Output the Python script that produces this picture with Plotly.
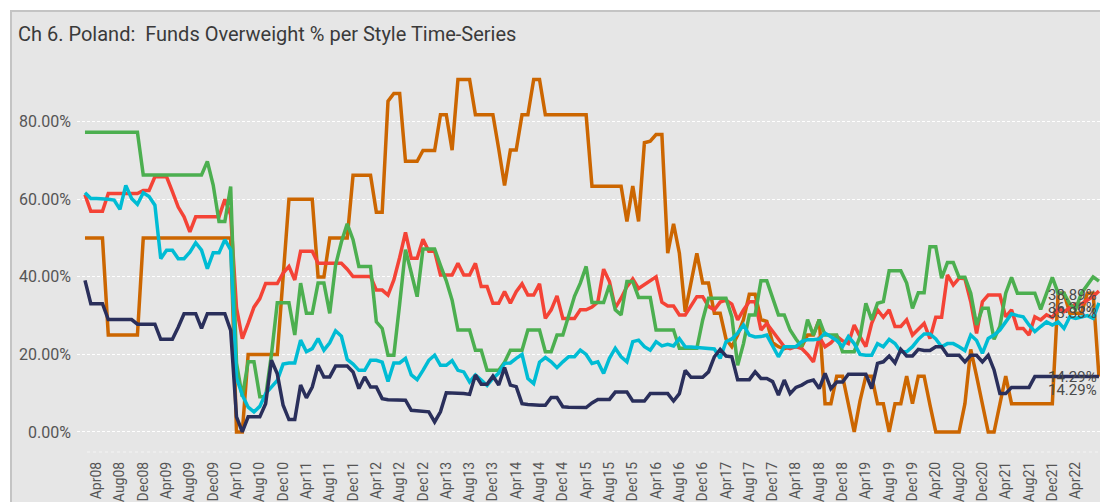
import plotly.graph_objects as go

# Monthly categories, Feb08 .. Aug22
MONTHS = ["Jan", "Feb", "Mar", "Apr", "May", "Jun", "Jul", "Aug", "Sep", "Oct", "Nov", "Dec"]
categories = [f"{MONTHS[(1 + k) % 12]}{8 + (1 + k) // 12:02d}" for k in range(175)]
tick_labels = categories[2:171:4]          # Apr08, Aug08, ... Apr22

orange = [
    0.50, 0.50, 0.50, 0.50, 0.25, 0.25, 0.25, 0.25, 0.25, 0.25,
    0.50, 0.50, 0.50, 0.50, 0.50, 0.50, 0.50, 0.50, 0.50, 0.50,
    0.50, 0.50, 0.50, 0.50, 0.50, 0.50, 0.0, 0.0, 0.20, 0.20,
    0.20, 0.20, 0.20, 0.20, 0.40, 0.60, 0.60, 0.60, 0.60, 0.60,
    0.40, 0.40, 0.50, 0.50, 0.50, 0.50, 0.662, 0.662, 0.662, 0.662,
    0.567, 0.567, 0.853, 0.873, 0.873, 0.698, 0.698, 0.698, 0.726, 0.726,
    0.726, 0.818, 0.818, 0.727, 0.909, 0.909, 0.909, 0.818, 0.818, 0.818,
    0.818, 0.730, 0.636, 0.727, 0.727, 0.818, 0.818, 0.909, 0.909, 0.818,
    0.818, 0.818, 0.818, 0.818, 0.818, 0.818, 0.818, 0.634, 0.634, 0.634,
    0.634, 0.634, 0.634, 0.543, 0.634, 0.543, 0.746, 0.750, 0.767, 0.767,
    0.461, 0.537, 0.461, 0.310, 0.384, 0.461, 0.384, 0.384, 0.306, 0.306,
    0.240, 0.220, 0.250, 0.290, 0.355, 0.355, 0.290, 0.285, 0.230, 0.220,
    0.215, 0.220, 0.220, 0.220, 0.250, 0.250, 0.290, 0.073, 0.073, 0.144,
    0.144, 0.073, 0.0, 0.080, 0.144, 0.144, 0.073, 0.073, 0.0, 0.073,
    0.073, 0.144, 0.073, 0.144, 0.144, 0.070, 0.0, 0.0, 0.0, 0.0,
    0.0, 0.073, 0.213, 0.144, 0.070, 0.0, 0.0, 0.070, 0.144, 0.073,
    0.073, 0.073, 0.073, 0.073, 0.073, 0.073, 0.073, 0.358, 0.358, 0.306,
    0.306, 0.306, 0.358, 0.358, 0.1429,
]

red = [
    0.612, 0.569, 0.569, 0.569, 0.615, 0.615, 0.615, 0.615, 0.615, 0.615,
    0.623, 0.623, 0.658, 0.658, 0.658, 0.620, 0.580, 0.555, 0.516, 0.555,
    0.555, 0.555, 0.555, 0.555, 0.600, 0.560, 0.320, 0.241, 0.280, 0.322,
    0.344, 0.383, 0.383, 0.383, 0.410, 0.427, 0.392, 0.466, 0.466, 0.466,
    0.435, 0.435, 0.435, 0.435, 0.435, 0.420, 0.401, 0.401, 0.401, 0.401,
    0.366, 0.366, 0.353, 0.392, 0.450, 0.515, 0.448, 0.448, 0.497, 0.466,
    0.466, 0.405, 0.405, 0.405, 0.435, 0.405, 0.405, 0.435, 0.375, 0.375,
    0.332, 0.332, 0.362, 0.332, 0.362, 0.382, 0.353, 0.353, 0.382, 0.293,
    0.315, 0.351, 0.293, 0.293, 0.293, 0.315, 0.315, 0.322, 0.335, 0.420,
    0.388, 0.320, 0.345, 0.375, 0.395, 0.370, 0.380, 0.390, 0.400, 0.335,
    0.325, 0.325, 0.302, 0.302, 0.324, 0.349, 0.349, 0.324, 0.315, 0.335,
    0.340, 0.330, 0.289, 0.315, 0.336, 0.336, 0.263, 0.280, 0.260, 0.240,
    0.220, 0.215, 0.220, 0.215, 0.200, 0.181, 0.245, 0.220, 0.230, 0.247,
    0.235, 0.228, 0.276, 0.246, 0.220, 0.280, 0.315, 0.296, 0.315, 0.272,
    0.272, 0.289, 0.250, 0.265, 0.280, 0.241, 0.296, 0.296, 0.405, 0.379,
    0.397, 0.395, 0.336, 0.254, 0.336, 0.353, 0.353, 0.353, 0.297, 0.315,
    0.267, 0.267, 0.250, 0.297, 0.289, 0.302, 0.295, 0.319, 0.310, 0.320,
    0.330, 0.330, 0.340, 0.350, 0.3636,
]

green = [
    0.773, 0.773, 0.773, 0.773, 0.773, 0.773, 0.773, 0.773, 0.773, 0.773,
    0.663, 0.663, 0.663, 0.663, 0.663, 0.663, 0.663, 0.663, 0.663, 0.663,
    0.663, 0.698, 0.637, 0.543, 0.543, 0.633, 0.178, 0.091, 0.181, 0.181,
    0.091, 0.091, 0.200, 0.333, 0.333, 0.333, 0.250, 0.384, 0.306, 0.306,
    0.384, 0.384, 0.306, 0.430, 0.490, 0.537, 0.496, 0.427, 0.427, 0.427,
    0.284, 0.267, 0.198, 0.198, 0.330, 0.470, 0.410, 0.349, 0.472, 0.472,
    0.472, 0.430, 0.390, 0.340, 0.263, 0.263, 0.263, 0.211, 0.211, 0.159,
    0.159, 0.159, 0.180, 0.211, 0.211, 0.211, 0.263, 0.263, 0.263, 0.207,
    0.207, 0.250, 0.250, 0.300, 0.350, 0.384, 0.427, 0.334, 0.334, 0.334,
    0.379, 0.315, 0.302, 0.388, 0.388, 0.347, 0.347, 0.347, 0.263, 0.263,
    0.263, 0.263, 0.216, 0.216, 0.216, 0.216, 0.289, 0.345, 0.345, 0.345,
    0.345, 0.297, 0.172, 0.228, 0.302, 0.302, 0.390, 0.390, 0.345, 0.302,
    0.302, 0.263, 0.240, 0.220, 0.290, 0.250, 0.290, 0.250, 0.250, 0.250,
    0.207, 0.207, 0.207, 0.246, 0.332, 0.289, 0.332, 0.336, 0.416, 0.416,
    0.416, 0.384, 0.319, 0.359, 0.359, 0.478, 0.478, 0.397, 0.437, 0.437,
    0.399, 0.399, 0.358, 0.276, 0.319, 0.319, 0.239, 0.272, 0.358, 0.399,
    0.358, 0.358, 0.358, 0.358, 0.316, 0.358, 0.399, 0.358, 0.358, 0.330,
    0.316, 0.358, 0.380, 0.400, 0.3889,
]

cyan = [
    0.617, 0.602, 0.602, 0.602, 0.600, 0.598, 0.574, 0.636, 0.602, 0.587,
    0.617, 0.607, 0.585, 0.447, 0.469, 0.469, 0.447, 0.447, 0.464, 0.488,
    0.469, 0.421, 0.462, 0.462, 0.496, 0.470, 0.140, 0.095, 0.064, 0.052,
    0.066, 0.099, 0.116, 0.133, 0.175, 0.178, 0.178, 0.237, 0.207, 0.215,
    0.241, 0.211, 0.230, 0.261, 0.247, 0.187, 0.175, 0.159, 0.159, 0.185,
    0.185, 0.180, 0.130, 0.178, 0.178, 0.190, 0.147, 0.135, 0.159, 0.185,
    0.198, 0.172, 0.172, 0.184, 0.159, 0.155, 0.129, 0.147, 0.134, 0.120,
    0.138, 0.152, 0.177, 0.178, 0.190, 0.200, 0.138, 0.125, 0.180, 0.192,
    0.181, 0.166, 0.181, 0.194, 0.194, 0.211, 0.200, 0.177, 0.181, 0.151,
    0.190, 0.216, 0.194, 0.181, 0.233, 0.237, 0.220, 0.211, 0.233, 0.222,
    0.226, 0.222, 0.241, 0.220, 0.219, 0.218, 0.216, 0.216, 0.214, 0.190,
    0.233, 0.240, 0.255, 0.276, 0.250, 0.245, 0.246, 0.250, 0.220, 0.194,
    0.220, 0.220, 0.220, 0.233, 0.238, 0.238, 0.240, 0.255, 0.245, 0.236,
    0.220, 0.246, 0.228, 0.200, 0.198, 0.198, 0.228, 0.220, 0.239, 0.228,
    0.207, 0.207, 0.220, 0.239, 0.253, 0.253, 0.240, 0.220, 0.228, 0.228,
    0.220, 0.210, 0.250, 0.236, 0.203, 0.241, 0.250, 0.263, 0.284, 0.305,
    0.300, 0.297, 0.276, 0.259, 0.272, 0.284, 0.276, 0.284, 0.267, 0.297,
    0.293, 0.297, 0.300, 0.293, 0.3333,
]

navy = [
    0.391, 0.331, 0.331, 0.331, 0.290, 0.290, 0.290, 0.290, 0.290, 0.278,
    0.278, 0.278, 0.278, 0.239, 0.239, 0.239, 0.270, 0.305, 0.305, 0.305,
    0.267, 0.305, 0.305, 0.305, 0.305, 0.262, 0.039, 0.0, 0.039, 0.039,
    0.039, 0.073, 0.185, 0.150, 0.069, 0.032, 0.032, 0.121, 0.088, 0.116,
    0.172, 0.142, 0.142, 0.170, 0.170, 0.170, 0.155, 0.112, 0.142, 0.116,
    0.116, 0.086, 0.083, 0.082, 0.082, 0.082, 0.056, 0.055, 0.054, 0.052,
    0.026, 0.052, 0.101, 0.101, 0.100, 0.099, 0.097, 0.147, 0.123, 0.123,
    0.144, 0.121, 0.166, 0.121, 0.117, 0.073, 0.071, 0.069, 0.069, 0.069,
    0.089, 0.089, 0.065, 0.064, 0.064, 0.064, 0.063, 0.075, 0.084, 0.084,
    0.084, 0.103, 0.103, 0.103, 0.080, 0.080, 0.080, 0.099, 0.099, 0.099,
    0.099, 0.080, 0.099, 0.159, 0.141, 0.141, 0.141, 0.155, 0.194, 0.213,
    0.196, 0.194, 0.135, 0.135, 0.135, 0.155, 0.138, 0.138, 0.130, 0.095,
    0.134, 0.099, 0.115, 0.121, 0.130, 0.134, 0.112, 0.151, 0.112, 0.129,
    0.129, 0.149, 0.149, 0.149, 0.149, 0.112, 0.177, 0.181, 0.196, 0.178,
    0.213, 0.196, 0.196, 0.213, 0.210, 0.210, 0.220, 0.220, 0.198, 0.198,
    0.198, 0.181, 0.198, 0.198, 0.181, 0.198, 0.160, 0.099, 0.099, 0.115,
    0.115, 0.115, 0.115, 0.1429, 0.1429, 0.1429, 0.1429, 0.1429, 0.1429, 0.1429,
    0.1429, 0.1429, 0.1429, 0.1429, 0.1429,
]

# (values, colour, vertical nudge of the end label in px)
series = [
    (orange, "#CC6600", -13),
    (red, "#F44336", -17),
    (green, "#4CAF50", -14),
    (cyan, "#00BCD4", -10),
    (navy, "#2A2F5B", 0),
]

FONT = "Roboto"
TEXT = "#4a4a4a"

fig = go.Figure()
for values, colour, _ in series:
    fig.add_trace(go.Scatter(
        x=categories, y=values, mode="lines",
        line=dict(color=colour, width=3.5),
        hoverinfo="skip", showlegend=False,
    ))

# value labels at the end of each line
for values, colour, nudge in series:
    fig.add_annotation(
        x=categories[-1], y=values[-1], text=f"{values[-1] * 100:.2f}%",
        showarrow=False, xanchor="right", yanchor="middle", yshift=nudge,
        font=dict(family=FONT, size=15, color=TEXT),
    )

# plot box: 77..1100 px wide, 52..452 px tall
L, T, W, H = 77, 52, 1023, 400
def px(x):
    return (x - L) / W
def py(y):
    return (T + H - y) / H

# light grey card with a grey frame
fig.add_shape(type="rect", xref="paper", yref="paper",
              x0=px(11), x1=px(1120), y0=py(530), y1=py(11),
              fillcolor="#E6E6E6", line=dict(color="#C4C4C4", width=2), layer="below")
# dotted baseline under the plot
fig.add_shape(type="line", xref="paper", yref="paper",
              x0=px(87), x1=1.0, y0=0, y1=0,
              line=dict(color="#F4F4F4", width=1.2, dash="dot"), layer="below")

fig.update_layout(
    width=1100, height=502,
    margin=dict(l=L, r=0, t=T, b=502 - T - H, pad=0),
    paper_bgcolor="white", plot_bgcolor="rgba(0,0,0,0)",
    title=dict(text="Ch 6. Poland:  Funds Overweight % per Style Time-Series",
               xref="container", yref="container", x=18 / 1100, y=1 - 34 / 502,
               xanchor="left", yanchor="middle",
               font=dict(family=FONT, size=20, color="#3a3a3a")),
    font=dict(family=FONT, color=TEXT),
)

fig.update_xaxes(
    type="category", range=[-1.37, 174.18],
    tickmode="array", tickvals=tick_labels, ticktext=tick_labels,
    tickangle=-90, ticks="", showgrid=False, zeroline=False, showline=False,
    ticklabelstandoff=6,
    tickfont=dict(family=FONT, size=14, color="#555555"),
)
fig.update_yaxes(
    range=[-0.0516, 0.98],
    tickmode="array", tickvals=[0, 0.2, 0.4, 0.6, 0.8], tickformat=".2%",
    ticks="", showgrid=True, gridcolor="white", gridwidth=1, griddash="3px,2px",
    zeroline=False, showline=False, ticklabelstandoff=5,
    tickfont=dict(family=FONT, size=16, color="#555555"),
)

fig.write_html("out.html")
